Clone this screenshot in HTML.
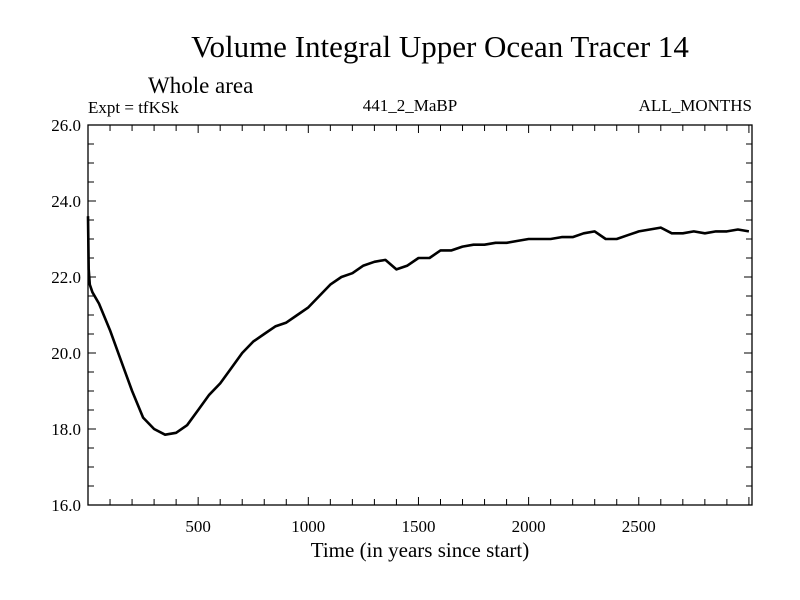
<!DOCTYPE html>
<html><head><meta charset="utf-8"><style>
body{margin:0;background:#fff}
svg{display:block;font-family:"Liberation Serif",serif}
</style></head><body>
<svg id="chart" width="800" height="600" viewBox="0 0 800 600">
<text x="440" y="57" font-size="31" text-anchor="middle">Volume Integral Upper Ocean Tracer 14</text>
<text x="148" y="93" font-size="23">Whole area</text>
<text x="88" y="113" font-size="17">Expt = tfKSk</text>
<text x="410" y="111" font-size="17" text-anchor="middle">441_2_MaBP</text>
<text x="752" y="111" font-size="17" text-anchor="end">ALL_MONTHS</text>
<text x="420" y="557" font-size="21" text-anchor="middle">Time (in years since start)</text>
<g id="axes"></g>
<rect x="88" y="125" width="664" height="380" fill="none" stroke="#000" stroke-width="1.3"/>
<path id="series" fill="none" stroke="#000" stroke-width="2.6" stroke-linejoin="round"/>
</svg>
<script>
const years=[0,3,8,20,50,100,150,200,250,300,350,400,450,500,550,600,650,700,750,800,850,900,950,1000,1050,1100,1150,1200,1250,1300,1350,1400,1450,1500,1550,1600,1650,1700,1750,1800,1850,1900,1950,2000,2050,2100,2150,2200,2250,2300,2350,2400,2450,2500,2550,2600,2650,2700,2750,2800,2850,2900,2950,3000];
const values=[23.6,22.2,21.8,21.6,21.3,20.6,19.8,19.0,18.3,18.0,17.85,17.9,18.1,18.5,18.9,19.2,19.6,20.0,20.3,20.5,20.7,20.8,21.0,21.2,21.5,21.8,22.0,22.1,22.3,22.4,22.45,22.2,22.3,22.5,22.5,22.7,22.7,22.8,22.85,22.85,22.9,22.9,22.95,23.0,23.0,23.0,23.05,23.05,23.15,23.2,23.0,23.0,23.1,23.2,23.25,23.3,23.15,23.15,23.2,23.15,23.2,23.2,23.25,23.2];
const xTicks=[500,1000,1500,2000,2500];
const yTicks=[16,18,20,22,24,26];
const X0=88,X1=752,Y0=505,Y1=125,XMAX=3014,YMIN=16,YMAX=26;
const sx=v=>X0+(X1-X0)*v/XMAX;
const sy=v=>Y0-(Y0-Y1)*(v-YMIN)/(YMAX-YMIN);
const NS="http://www.w3.org/2000/svg";
const ax=document.getElementById('axes');
function line(x1,y1,x2,y2){const l=document.createElementNS(NS,'line');l.setAttribute('x1',x1);l.setAttribute('y1',y1);l.setAttribute('x2',x2);l.setAttribute('y2',y2);l.setAttribute('stroke','#000');l.setAttribute('stroke-width','1');


ax.appendChild(l);}
function text(x,y,s,anchor){const t=document.createElementNS(NS,'text');t.setAttribute('x',x);t.setAttribute('y',y);t.setAttribute('font-size','17');t.setAttribute('text-anchor',anchor);t.textContent=s;


ax.appendChild(t);}
for(let v=100;v<XMAX;v+=100){const x=sx(v);const L=(v%500===0)?8:6;line(x,Y0,x,Y0-L);line(x,Y1,x,Y1+L);}
for(let v=16.5;v<26;v+=0.5){const y=sy(v);const L=(v%2===0)?8:6;line(X0,y,X0+L,y);line(X1,y,X1-L,y);}
xTicks.forEach(v=>text(sx(v),Y0+27,String(v),'middle'));
yTicks.forEach(v=>text(X0-7,sy(v)+6,v.toFixed(1),'end'));
document.getElementById('series').setAttribute('d',years.map((y,i)=>(i?'L':'M')+sx(y).toFixed(1)+','+sy(values[i]).toFixed(1)).join(''));
</script>
</body></html>
